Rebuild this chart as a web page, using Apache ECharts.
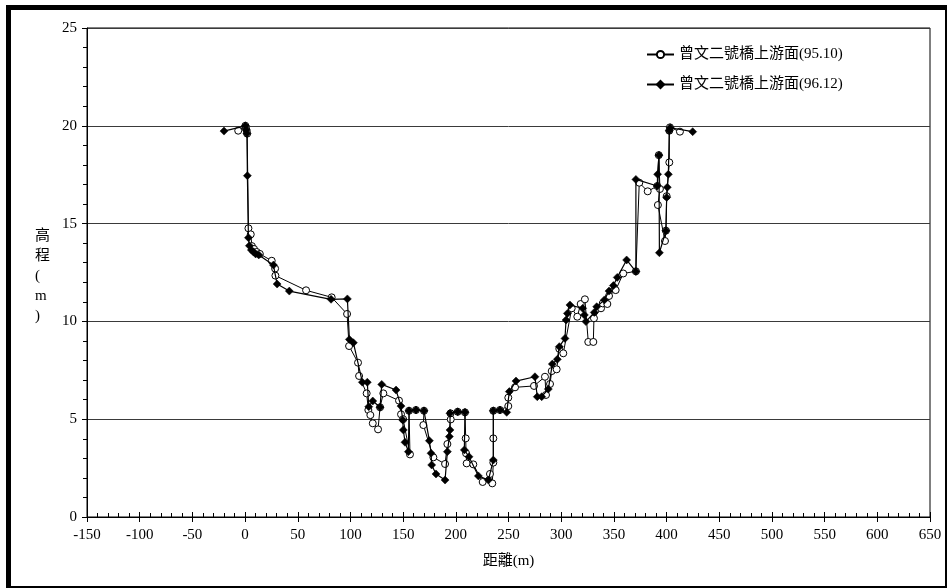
<!DOCTYPE html>
<html>
<head>
<meta charset="utf-8">
<title>曾文二號橋上游面 斷面</title>
<script src="https://cdn.jsdelivr.net/npm/echarts@6/dist/echarts.min.js"></script>
<style>
  html, body { margin: 0; padding: 0; background: #fff; }
  #chart { width: 947px; height: 588px; }
</style>
</head>
<body>
<div id="chart"></div>
<script>
// Cross-section survey points: [distance (m), elevation (m)]
const survey9510 = [
  [-6.5, 19.75], [0.3, 20.0], [0.8, 19.9], [1.5, 19.75], [2.0, 19.6],
  [3.2, 14.76], [5.4, 14.45], [6.5, 13.85], [8.5, 13.7], [11, 13.55], [14, 13.45],
  [25.3, 13.1], [28.5, 12.7], [28.8, 12.34], [57.9, 11.59], [82.2, 11.23],
  [96.8, 10.38], [98.7, 8.74], [107.2, 7.89], [108.2, 7.21], [115.4, 6.32],
  [117.0, 5.47], [118.9, 5.21], [121.2, 4.79], [126.2, 4.48], [128.1, 5.61],
  [131.2, 6.32], [146.1, 5.95], [148.0, 5.25], [150.0, 5.0], [156.5, 3.2],
  [155.6, 5.43], [162.2, 5.47], [169.8, 5.43], [169.2, 4.7], [178.7, 3.05],
  [189.8, 2.71], [192.0, 3.73], [195.2, 4.99], [195.0, 5.3], [201.8, 5.38],
  [208.7, 5.35], [209.4, 4.02], [209.7, 3.26], [210.3, 2.74], [216.6, 2.69],
  [225.5, 1.79], [232.4, 2.2], [234.6, 1.72], [235.6, 2.78], [235.6, 4.02],
  [235.6, 5.43], [241.9, 5.47], [249.8, 5.67], [249.8, 6.1], [256.2, 6.63],
  [274.2, 6.7], [284.6, 7.17], [285.6, 6.24], [289.4, 6.8], [291.0, 7.46],
  [295.7, 7.55], [298.2, 8.6], [302.0, 8.37], [310.0, 10.67], [315.3, 10.24],
  [318.5, 10.89], [322.5, 11.13], [325.7, 8.95], [330.5, 8.95], [331.1, 10.16],
  [337.8, 10.67], [339.4, 10.92], [343.8, 10.89], [345.4, 11.3], [351.7, 11.6],
  [358.9, 12.45], [370.9, 12.56], [374.1, 17.09], [382.1, 16.65], [391.2, 16.92],
  [392.6, 18.5], [393.7, 16.77], [391.8, 15.95], [398.5, 14.11], [399.4, 14.64],
  [400.1, 16.4], [402.6, 18.13], [402.6, 19.75], [403.2, 19.92], [412.7, 19.7]
];

const survey9612 = [
  [-20, 19.73], [0.3, 20.0], [1.0, 19.8], [1.8, 19.6], [2.2, 17.45],
  [3.2, 14.28], [4.1, 13.87], [6, 13.65], [8, 13.55], [10, 13.45], [13, 13.4],
  [26.9, 12.88], [30.4, 11.91], [42, 11.55], [81.6, 11.13], [97.1, 11.15],
  [99, 9.08], [102.8, 8.91], [111.3, 6.89], [116, 6.89], [117.4, 5.64],
  [121.2, 5.93], [128.1, 5.61], [129.7, 6.78], [143.3, 6.49], [148, 5.67],
  [149.6, 4.96], [150.2, 4.45], [151.8, 3.82], [155, 3.34], [155.6, 5.43],
  [162.2, 5.47], [169.8, 5.43], [174.9, 3.9], [176.5, 3.26], [177.1, 2.66],
  [181.2, 2.2], [189.8, 1.89], [192, 3.34], [193.9, 4.11], [194.5, 4.45],
  [194.5, 5.3], [201.8, 5.38], [208.7, 5.35], [208.1, 3.43], [212.5, 3.08],
  [221.4, 2.1], [230.9, 1.89], [235.6, 2.91], [235.6, 5.43], [241.9, 5.47],
  [248.3, 5.35], [250.8, 6.41], [257.1, 6.95], [275.1, 7.17], [277.3, 6.15],
  [281.5, 6.15], [287.8, 6.54], [291.6, 7.82], [296.3, 8.06], [298.2, 8.71],
  [303.6, 9.13], [304.6, 10.07], [305.9, 10.41], [308.3, 10.84], [320.4, 10.67],
  [322, 10.33], [323.5, 9.99], [331.4, 10.46], [333.7, 10.75], [341, 11.1],
  [345.4, 11.55], [349.5, 11.83], [353.2, 12.25], [362.1, 13.14], [370.9, 12.55],
  [370.9, 17.26], [391.2, 16.92], [391.5, 17.52], [392.8, 18.5], [393.2, 13.51],
  [399.4, 14.64], [400.1, 16.34], [400.7, 16.86], [401.7, 17.52], [402.6, 19.75],
  [403.5, 19.9], [424.8, 19.7]
];

const seriesNames = ['曾文二號橋上游面(95.10)', '曾文二號橋上游面(96.12)'];
const xRange = [-150, 650, 50];   // min, max, step
const yRange = [0, 25, 5];

const FONT = '"Liberation Serif", "Times New Roman", "Noto Sans CJK TC", serif';

const chart = echarts.init(document.getElementById('chart'), null, { renderer: 'canvas' });

const gridBox = { left: 87, right: 17, top: 28, bottom: 71 };

chart.setOption({
  animation: false,
  backgroundColor: '#fff',
  textStyle: { fontFamily: FONT, color: '#000' },
  grid: Object.assign({ show: true, borderColor: '#000', borderWidth: 1, backgroundColor: 'transparent' }, gridBox),
  legend: {
    orient: 'vertical',
    left: 641,
    top: 42,
    itemGap: 15,
    itemWidth: 27,
    itemHeight: 9,
    data: seriesNames,
    textStyle: { fontFamily: FONT, fontSize: 15, color: '#000' }
  },
  xAxis: [
    {
      type: 'value',
      min: xRange[0], max: xRange[1], interval: xRange[2],
      name: '距離(m)',
      nameLocation: 'middle',
      nameGap: 37,
      nameTextStyle: { fontFamily: FONT, fontSize: 15, color: '#000' },
      axisLine: { onZero: false, lineStyle: { color: '#000', width: 1 } },
      axisTick: { show: true, inside: true, length: 5, lineStyle: { color: '#000' } },
      minorTick: { show: true, splitNumber: 5, length: 4, lineStyle: { color: '#000' } },
      axisLabel: { fontFamily: FONT, fontSize: 15, color: '#000', margin: 11 },
      splitLine: { show: false }
    },
    {
      // outward half of the major ticks
      type: 'value',
      position: 'bottom',
      min: xRange[0], max: xRange[1], interval: xRange[2],
      axisLine: { show: false, onZero: false },
      axisTick: { show: true, inside: false, length: 5, lineStyle: { color: '#000' } },
      axisLabel: { show: false },
      splitLine: { show: false }
    }
  ],
  yAxis: {
    type: 'value',
    min: yRange[0], max: yRange[1], interval: yRange[2],
    axisLine: { show: true, onZero: false, lineStyle: { color: '#000', width: 1 } },
    axisTick: { show: true, inside: false, length: 5, lineStyle: { color: '#000' } },
    minorTick: { show: true, splitNumber: 5, length: 4, lineStyle: { color: '#000' } },
    axisLabel: { fontFamily: FONT, fontSize: 15, color: '#000', margin: 10 },
    splitLine: { show: true, lineStyle: { color: '#3a3a3a', width: 1 } }
  },
  graphic: [
    {
      type: 'text',
      left: 35, top: 226,
      style: {
        text: '高\n程\n(\nm\n)',
        fontFamily: FONT,
        fontSize: 15,
        lineHeight: 20,
        fill: '#000',
        align: 'center'
      }
    },
    // outer frame
    { type: 'line', shape: { x1: 6, y1: 7.5, x2: 947, y2: 7.5 }, style: { stroke: '#000', lineWidth: 5 } },
    { type: 'line', shape: { x1: 8.5, y1: 5, x2: 8.5, y2: 588 }, style: { stroke: '#000', lineWidth: 5 } },
    { type: 'line', shape: { x1: 6, y1: 587, x2: 947, y2: 587 }, style: { stroke: '#000', lineWidth: 2 } },
    { type: 'line', shape: { x1: 946, y1: 5, x2: 946, y2: 588 }, style: { stroke: '#000', lineWidth: 2 } }
  ],
  series: [
    {
      name: seriesNames[0],
      type: 'line',
      data: survey9510,
      symbol: 'circle',
      symbolSize: 7,
      showAllSymbol: true,
      lineStyle: { color: '#000', width: 1 },
      itemStyle: { color: '#fff', borderColor: '#000', borderWidth: 1 },
      z: 2
    },
    {
      name: seriesNames[1],
      type: 'line',
      data: survey9612,
      symbol: 'diamond',
      symbolSize: 8,
      showAllSymbol: true,
      lineStyle: { color: '#000', width: 1.2 },
      itemStyle: { color: '#000', borderColor: '#000', borderWidth: 0.5 },
      z: 3
    }
  ]
});
</script>
</body>
</html>
